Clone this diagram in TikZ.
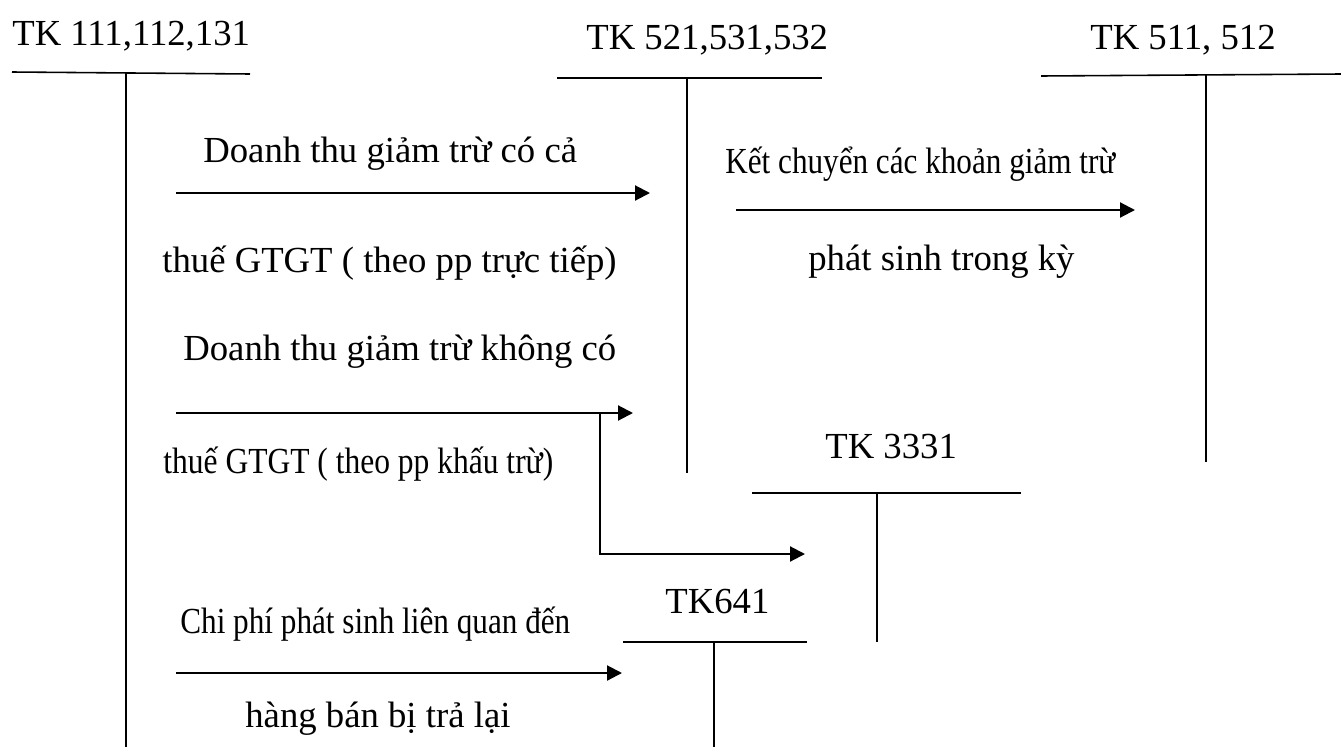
\documentclass[tikz,border=0pt]{standalone}
\usepackage{fontspec}
\setmainfont{Liberation Serif}
\usetikzlibrary{arrows.meta}
\newcommand{\squeeze}[2]{\resizebox{#1}{\height}{#2}}

\begin{document}
\begin{tikzpicture}[x=0.02cm, y=-0.02cm, >={Triangle[length=0.3cm,width=0.3cm]},
  lbl/.style={inner sep=0pt, anchor=base west, font=\fontsize{20.9}{24}\selectfont},
  tline/.style={line width=0.9pt},
  flow/.style={->, line width=1.2pt}]
\useasboundingbox (0,0) rectangle (1341,747);

% T accounts
\node[lbl] (tk111) at (12,45) {TK 111,112,131};
\coordinate (t111l) at (12,72); \coordinate (t111r) at (250,74);
\coordinate (t111t) at (126,73); \coordinate (t111b) at (126,747);
\draw[tline] (t111l) -- (t111r);
\draw[tline] (t111t) -- (t111b);

\node[lbl] (tk521) at (586,49) {TK 521,531,532};
\coordinate (t521l) at (557,78); \coordinate (t521r) at (822,78);
\coordinate (t521t) at (687,78); \coordinate (t521b) at (687,473);
\draw[tline] (t521l) -- (t521r);
\draw[tline] (t521t) -- (t521b);

\node[lbl] (tk511) at (1090,49) {TK 511, 512};
\coordinate (t511l) at (1041,76); \coordinate (t511r) at (1341,74);
\coordinate (t511t) at (1206,75); \coordinate (t511b) at (1206,462);
\draw[tline] (t511l) -- (t511r);
\draw[tline] (t511t) -- (t511b);

\node[lbl] (tk3331) at (825,458) {TK 3331};
\coordinate (t3331l) at (752,493); \coordinate (t3331r) at (1021,493);
\coordinate (t3331t) at (877,493); \coordinate (t3331b) at (877,642);
\draw[tline] (t3331l) -- (t3331r);
\draw[tline] (t3331t) -- (t3331b);

\node[lbl] (tk641) at (665,613) {TK641};
\coordinate (t641l) at (623,642); \coordinate (t641r) at (807,642);
\coordinate (t641t) at (714,642); \coordinate (t641b) at (714,747);
\draw[tline] (t641l) -- (t641r);
\draw[tline] (t641t) -- (t641b);

% flows
\coordinate (f1a) at (176,193); \coordinate (f1b) at (650,193);
\draw[flow] (f1a) -- (f1b);
\node[lbl] (f1up) at (203,162) {Doanh thu giảm trừ có cả};
\node[lbl] (f1dn) at (162,272) {thuế GTGT ( theo pp trực tiếp)};

\coordinate (f2a) at (736,210); \coordinate (f2b) at (1135,210);
\draw[flow] (f2a) -- (f2b);
\node[lbl] (f2up) at (725,173) {\squeeze{7.8cm}{Kết chuyển các khoản giảm trừ}};
\node[lbl] (f2dn) at (808,270) {phát sinh trong kỳ};

\coordinate (f3a) at (176,413); \coordinate (f3b) at (633,413);
\coordinate (f3k) at (600,413); \coordinate (f3c) at (600,554);
\coordinate (f3d) at (805,554);
\draw[flow] (f3a) -- (f3b);
\draw[flow] (f3k) -- (f3c) -- (f3d);
\node[lbl] (f3up) at (183,360) {Doanh thu giảm trừ không có};
\node[lbl] (f3dn) at (163,473) {\squeeze{7.8cm}{thuế GTGT ( theo pp khấu trừ)}};

\coordinate (f4a) at (176,673); \coordinate (f4b) at (622,673);
\draw[flow] (f4a) -- (f4b);
\node[lbl] (f4up) at (180,633) {\squeeze{7.8cm}{Chi phí phát sinh liên quan đến}};
\node[lbl] (f4dn) at (245,727) {hàng bán bị trả lại};
\end{tikzpicture}
\end{document}
